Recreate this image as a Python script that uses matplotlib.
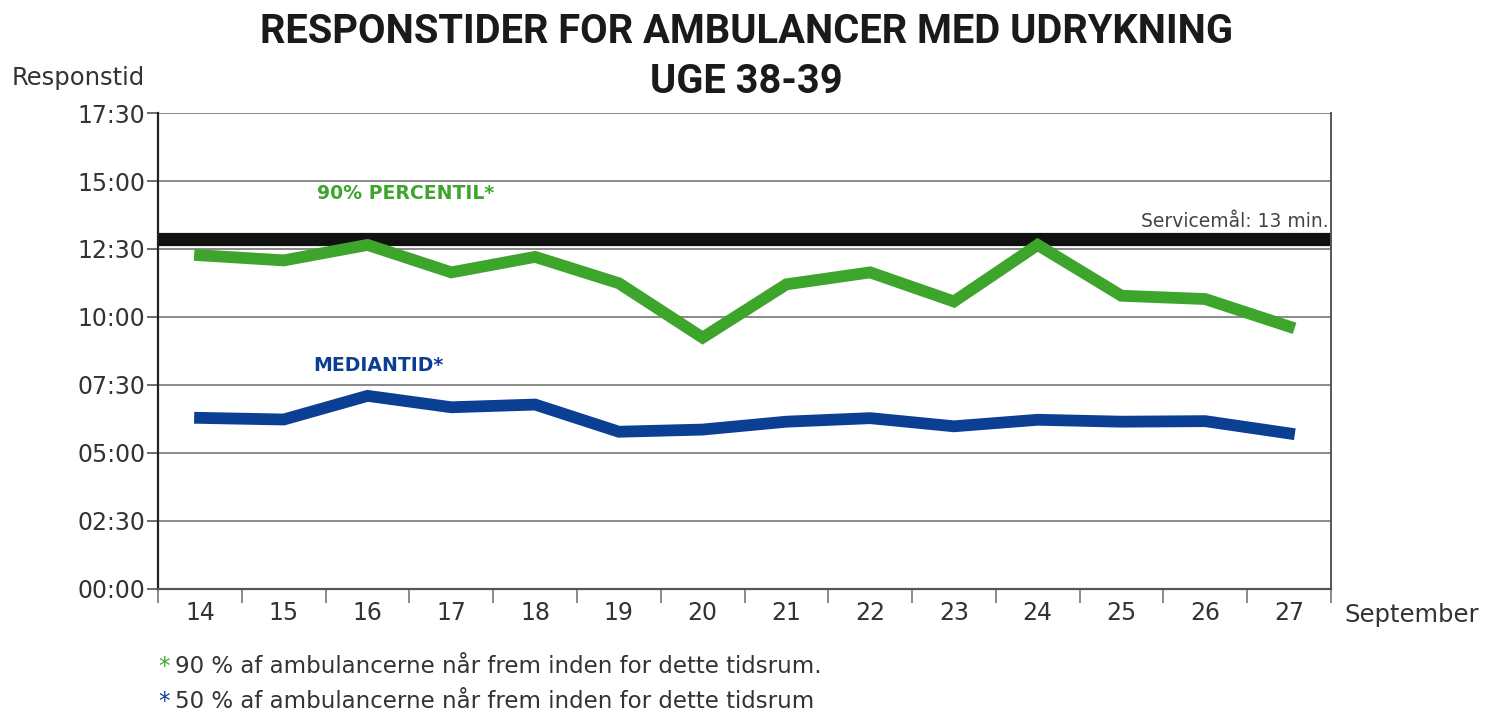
import matplotlib

matplotlib.use("Agg")

import matplotlib.pyplot as plt
import numpy as np
from matplotlib.ticker import FixedLocator, FuncFormatter

# --- data (minutes) ---------------------------------------------------------
days = ["14", "15", "16", "17", "18", "19", "20", "21", "22", "23", "24", "25", "26", "27"]
p90 = [12.27, 12.08, 12.65, 11.64, 12.21, 11.24, 9.24, 11.20, 11.64, 10.57, 12.65, 10.78, 10.66, 9.65]
median = [6.29, 6.23, 7.10, 6.68, 6.78, 5.78, 5.86, 6.15, 6.28, 5.98, 6.22, 6.15, 6.17, 5.72]
service_goal = 12.85
y_ticks = [0, 2.5, 5, 7.5, 10, 12.5, 15, 17.5]

_GREEN = "#3da52b"
_BLUE = "#0b3f94"
_GRID = "#8a8a8a"
_TEXT = "#333333"

plt.rcParams["font.family"] = ["DejaVu Sans"]
TITLE_FONT = ["Roboto", "DejaVu Sans"]


def mmss(v, _pos=None):
    secs = int(round(v * 60))
    return f"{secs // 60:02d}:{secs % 60:02d}"


fig = plt.figure(figsize=(14.92, 7.13), dpi=100)
ax = fig.add_axes([0.106, 0.174, 0.786, 0.6675])

x = np.arange(len(days))
ax.set_xlim(-0.5, len(days) - 0.5)
ax.set_ylim(0, 17.5)

for v in y_ticks[1:]:
    ax.axhline(v, color=_GRID, lw=1.4, zorder=1)

ax.axhline(service_goal, color="#111111", lw=9.5, zorder=2)
ax.plot(x, p90, color=_GREEN, lw=8.5, solid_joinstyle="miter", zorder=3)
ax.plot(x, median, color=_BLUE, lw=8.5, solid_joinstyle="miter", zorder=3)

# axes styling
ax.spines["top"].set_visible(False)
ax.spines["left"].set_color("#222222")
ax.spines["left"].set_linewidth(1.6)
ax.spines["bottom"].set_color("#555555")
ax.spines["bottom"].set_linewidth(1.6)
ax.spines["right"].set_color("#555555")
ax.spines["right"].set_linewidth(1.4)

ax.yaxis.set_major_locator(FixedLocator(y_ticks))
ax.yaxis.set_major_formatter(FuncFormatter(mmss))
ax.tick_params(axis="y", length=8, width=1.2, color="#555555", pad=1,
               labelsize=17, labelcolor=_TEXT)

ax.set_xticks(x)
ax.set_xticklabels(days)
ax.set_xticks(np.arange(-0.5, len(days), 1.0), minor=True)
ax.tick_params(axis="x", which="major", length=0, pad=9, labelsize=17, labelcolor=_TEXT)
ax.tick_params(axis="x", which="minor", length=10, width=1.2, color="#777777")

# texts
fig.text(0.5, 0.955, "RESPONSTIDER FOR AMBULANCER MED UDRYKNING", ha="center", va="center",
         fontsize=28.7, fontweight="bold", color="#1a1a1a", family=TITLE_FONT)
fig.text(0.5, 0.885, "UGE 38-39", ha="center", va="center",
         fontsize=28.7, fontweight="bold", color="#1a1a1a", family=TITLE_FONT)
fig.text(0.008, 0.89, "Responstid", ha="left", va="center", fontsize=17.5, color=_TEXT)
fig.text(0.901, 0.137, "September", ha="left", va="center", fontsize=17.5, color=_TEXT)

ax.text(1.4, 14.55, "90% PERCENTIL*", color=_GREEN, fontsize=13.6, fontweight="bold",
        ha="left", va="center")
ax.text(1.35, 8.2, "MEDIANTID*", color=_BLUE, fontsize=13.6, fontweight="bold",
        ha="left", va="center")
ax.text(13.47, 13.5, "Servicemål: 13 min.", color="#444444", fontsize=13.5,
        ha="right", va="center")

# footnotes
fig.text(0.106, 0.065, "*", color=_GREEN, fontsize=16.5, ha="left", va="center")
fig.text(0.117, 0.065, "90 % af ambulancerne når frem inden for dette tidsrum.",
         color=_TEXT, fontsize=16.5, ha="left", va="center")
fig.text(0.106, 0.016, "*", color=_BLUE, fontsize=16.5, ha="left", va="center")
fig.text(0.117, 0.016, "50 % af ambulancerne når frem inden for dette tidsrum",
         color=_TEXT, fontsize=16.5, ha="left", va="center")

fig.savefig("out.png", dpi=100)
plt.close(fig)
